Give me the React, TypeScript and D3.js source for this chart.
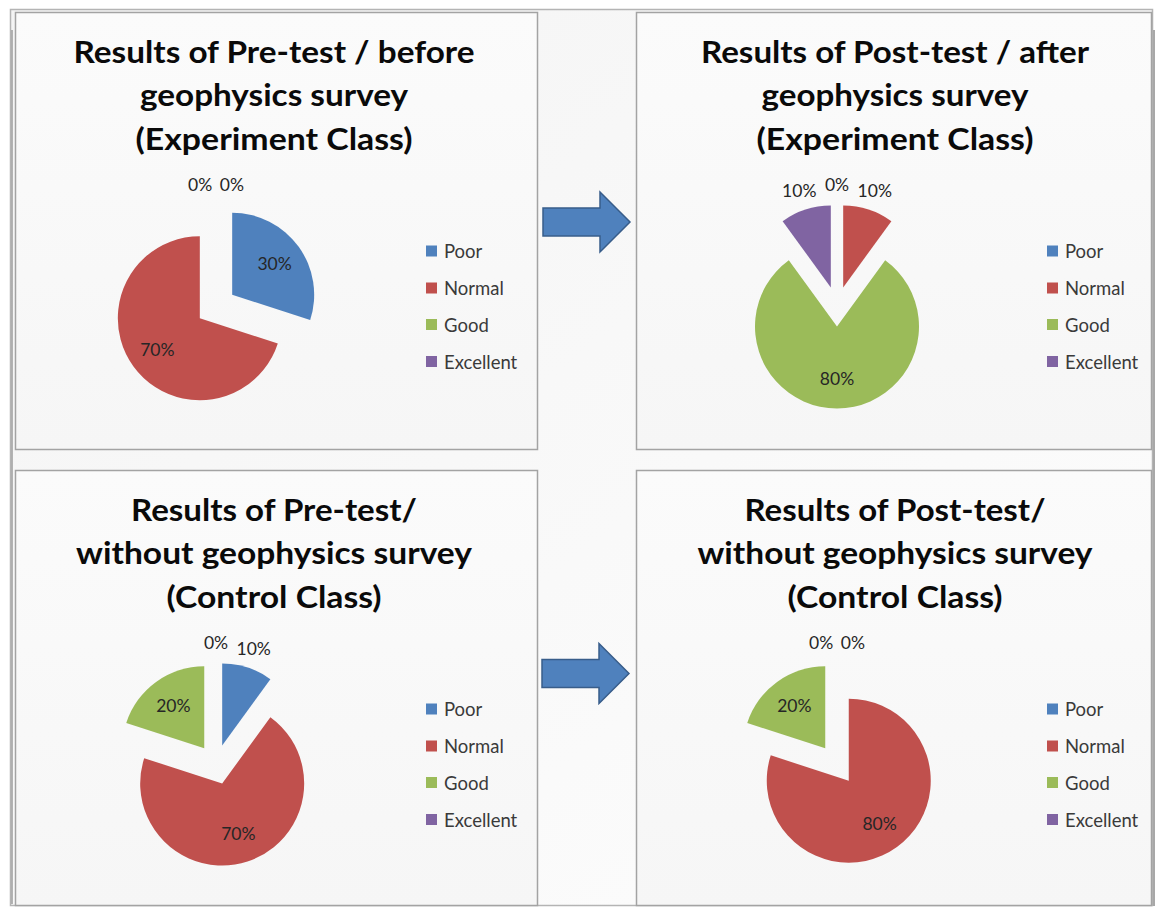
import React from 'react';
import * as d3 from 'd3';

// ---------- data ----------
const categories = ['Poor', 'Normal', 'Good', 'Excellent'];
const categoryColors = ['#4F81BD', '#C0504D', '#9BBB59', '#8064A2'];

const preExperiment = [30, 70, 0, 0];
const postExperiment = [0, 10, 80, 10];
const preControl = [10, 70, 20, 0];
const postControl = [0, 80, 20, 0];

const titlePreExperiment = ['Results of Pre-test / before', 'geophysics survey', '(Experiment Class)'];
const titlePostExperiment = ['Results of Post-test / after', 'geophysics survey', '(Experiment Class)'];
const titlePreControl = ['Results of Pre-test/', 'without geophysics survey', '(Control Class)'];
const titlePostControl = ['Results of Post-test/', 'without geophysics survey', '(Control Class)'];

// ---------- layout ----------
const W = 1156;
const H = 908;
const panelLayout = [
  { x: 15, y: 12, w: 522, h: 437, values: preExperiment, title: titlePreExperiment, widths: [401, 268, 277] },
  { x: 636, y: 12, w: 515, h: 437, values: postExperiment, title: titlePostExperiment, widths: [388, 267, 277] },
  { x: 15, y: 470, w: 522, h: 435, values: preControl, title: titlePreControl, widths: [286, 396, 215] },
  { x: 636, y: 470, w: 515, h: 435, values: postControl, title: titlePostControl, widths: [301, 395, 215] },
];
const R = 82;
const EXPLODE = 20;
const LABEL_FONT = 17.5;
const FONT = "Lato, 'Open Sans', 'Liberation Sans', sans-serif";

type Lab = { x: number; y: number; text: string; outside: boolean; w: number };

function Panel({ p }: { p: typeof panelLayout[number] }) {
  const cx = p.x + 201;
  const cy = p.y + 294.5;
  const pie = d3.pie<number>().sort(null).value((d) => d).startAngle(0).endAngle(2 * Math.PI);
  const arcs = pie(p.values);
  const arc = d3.arc<d3.PieArcDatum<number>>().innerRadius(0).outerRadius(R);

  const labels: Lab[] = arcs.map((a, i) => {
    const mid = (a.startAngle + a.endAngle) / 2;
    const dx = Math.sin(mid);
    const dy = -Math.cos(mid);
    const ox = cx + dx * EXPLODE;
    const oy = cy + dy * EXPLODE;
    const outside = p.values[i] <= 10;
    const r = outside ? 102 : 0.64 * R;
    const text = `${p.values[i]}%`;
    return { x: ox + dx * r, y: oy + dy * r, text, outside, w: text.length * 0.68 * LABEL_FONT };
  });
  // simple overlap resolution for outside labels
  for (let iter = 0; iter < 10; iter++) {
    for (let i = 0; i < labels.length; i++) {
      for (let j = i + 1; j < labels.length; j++) {
        const a = labels[i];
        const b = labels[j];
        if (!a.outside || !b.outside) continue;
        const need = (a.w + b.w) / 2 + 8;
        const ddx = b.x - a.x;
        if (Math.abs(b.y - a.y) < 16 && Math.abs(ddx) < need) {
          const push = (need - Math.abs(ddx)) / 2;
          const sgn = ddx > 0 ? 1 : ddx < 0 ? -1 : -1;
          a.x -= push * sgn;
          b.x += push * sgn;
        }
      }
    }
  }

  const legendY = [239, 276, 312.5, 349.5];

  return (
    <g>
      <rect x={p.x + 0.5} y={p.y + 0.5} width={p.w} height={p.h} fill="url(#panelGrad)" stroke="#A3A3A3" strokeWidth={1.5} />
      {p.title.map((t, i) => (
        <text
          key={i}
          x={p.x + 259}
          y={p.y + [51, 94, 138][i]}
          textAnchor="middle"
          fontFamily={FONT}
          fontWeight={700}
          fontSize={30}
          fill="#0a0a0a"
          textLength={p.widths[i]}
          lengthAdjust="spacingAndGlyphs"
        >
          {t}
        </text>
      ))}
      {arcs.map((a, i) => {
        if (a.endAngle - a.startAngle <= 0) return null;
        const mid = (a.startAngle + a.endAngle) / 2;
        const ox = cx + Math.sin(mid) * EXPLODE;
        const oy = cy - Math.cos(mid) * EXPLODE;
        return <path key={i} d={arc(a) || ''} transform={`translate(${ox},${oy})`} fill={categoryColors[i]} />;
      })}
      {labels.map((l, i) => (
        <text
          key={i}
          x={l.x}
          y={l.y}
          textAnchor="middle"
          dominantBaseline="central"
          fontFamily={FONT}
          fontSize={LABEL_FONT}
          fill="#262626"
        >
          {l.text}
        </text>
      ))}
      {categories.map((c, i) => (
        <g key={c}>
          <rect x={p.x + 411} y={p.y + legendY[i] - 5.5} width={11} height={11} fill={categoryColors[i]} />
          <text
            x={p.x + 429}
            y={p.y + legendY[i]}
            dominantBaseline="central"
            fontFamily={FONT}
            fontSize={18.5}
            fill="#3a3a3a"
          >
            {c}
          </text>
        </g>
      ))}
    </g>
  );
}

function Arrow({ x0, cyA }: { x0: number; cyA: number }) {
  const bodyH = 28;
  const headH = 60;
  const baseX = x0 + 57;
  const tipX = x0 + 87;
  const d = [
    [x0, cyA - bodyH / 2],
    [baseX, cyA - bodyH / 2],
    [baseX, cyA - headH / 2],
    [tipX, cyA],
    [baseX, cyA + headH / 2],
    [baseX, cyA + bodyH / 2],
    [x0, cyA + bodyH / 2],
  ];
  return <path d={d3.line()(d as [number, number][]) + 'Z'} fill="#4F81BD" stroke="#385D8A" strokeWidth={1.5} />;
}

export default function App() {
  return (
    <svg
      width={W}
      height={H}
      style={{ position: 'absolute', left: 0, top: 0, display: 'block', background: '#ffffff' }}
    >
      <defs>
        <linearGradient id="panelGrad" x1="0" y1="0" x2="0" y2="1">
          <stop offset="0" stopColor="#FBFBFB" />
          <stop offset="1" stopColor="#F6F6F6" />
        </linearGradient>
        <linearGradient id="frameGrad" x1="0" y1="0" x2="1" y2="1">
          <stop offset="0" stopColor="#F4F4F4" />
          <stop offset="1" stopColor="#FDFDFD" />
        </linearGradient>
      </defs>
      <rect x={10.5} y={9.5} width={1142} height={896} fill="url(#frameGrad)" stroke="#B4B4B4" strokeWidth={1.5} />
      <line x1={12} y1={30} x2={12} y2={904} stroke="#9C9C9C" strokeWidth={1.5} />
      <line x1={1154} y1={30} x2={1154} y2={906} stroke="#A8A8A8" strokeWidth={2} />
      {panelLayout.map((p, i) => (
        <Panel key={i} p={p} />
      ))}
      <Arrow x0={543} cyA={222} />
      <Arrow x0={542} cyA={673.5} />
    </svg>
  );
}
